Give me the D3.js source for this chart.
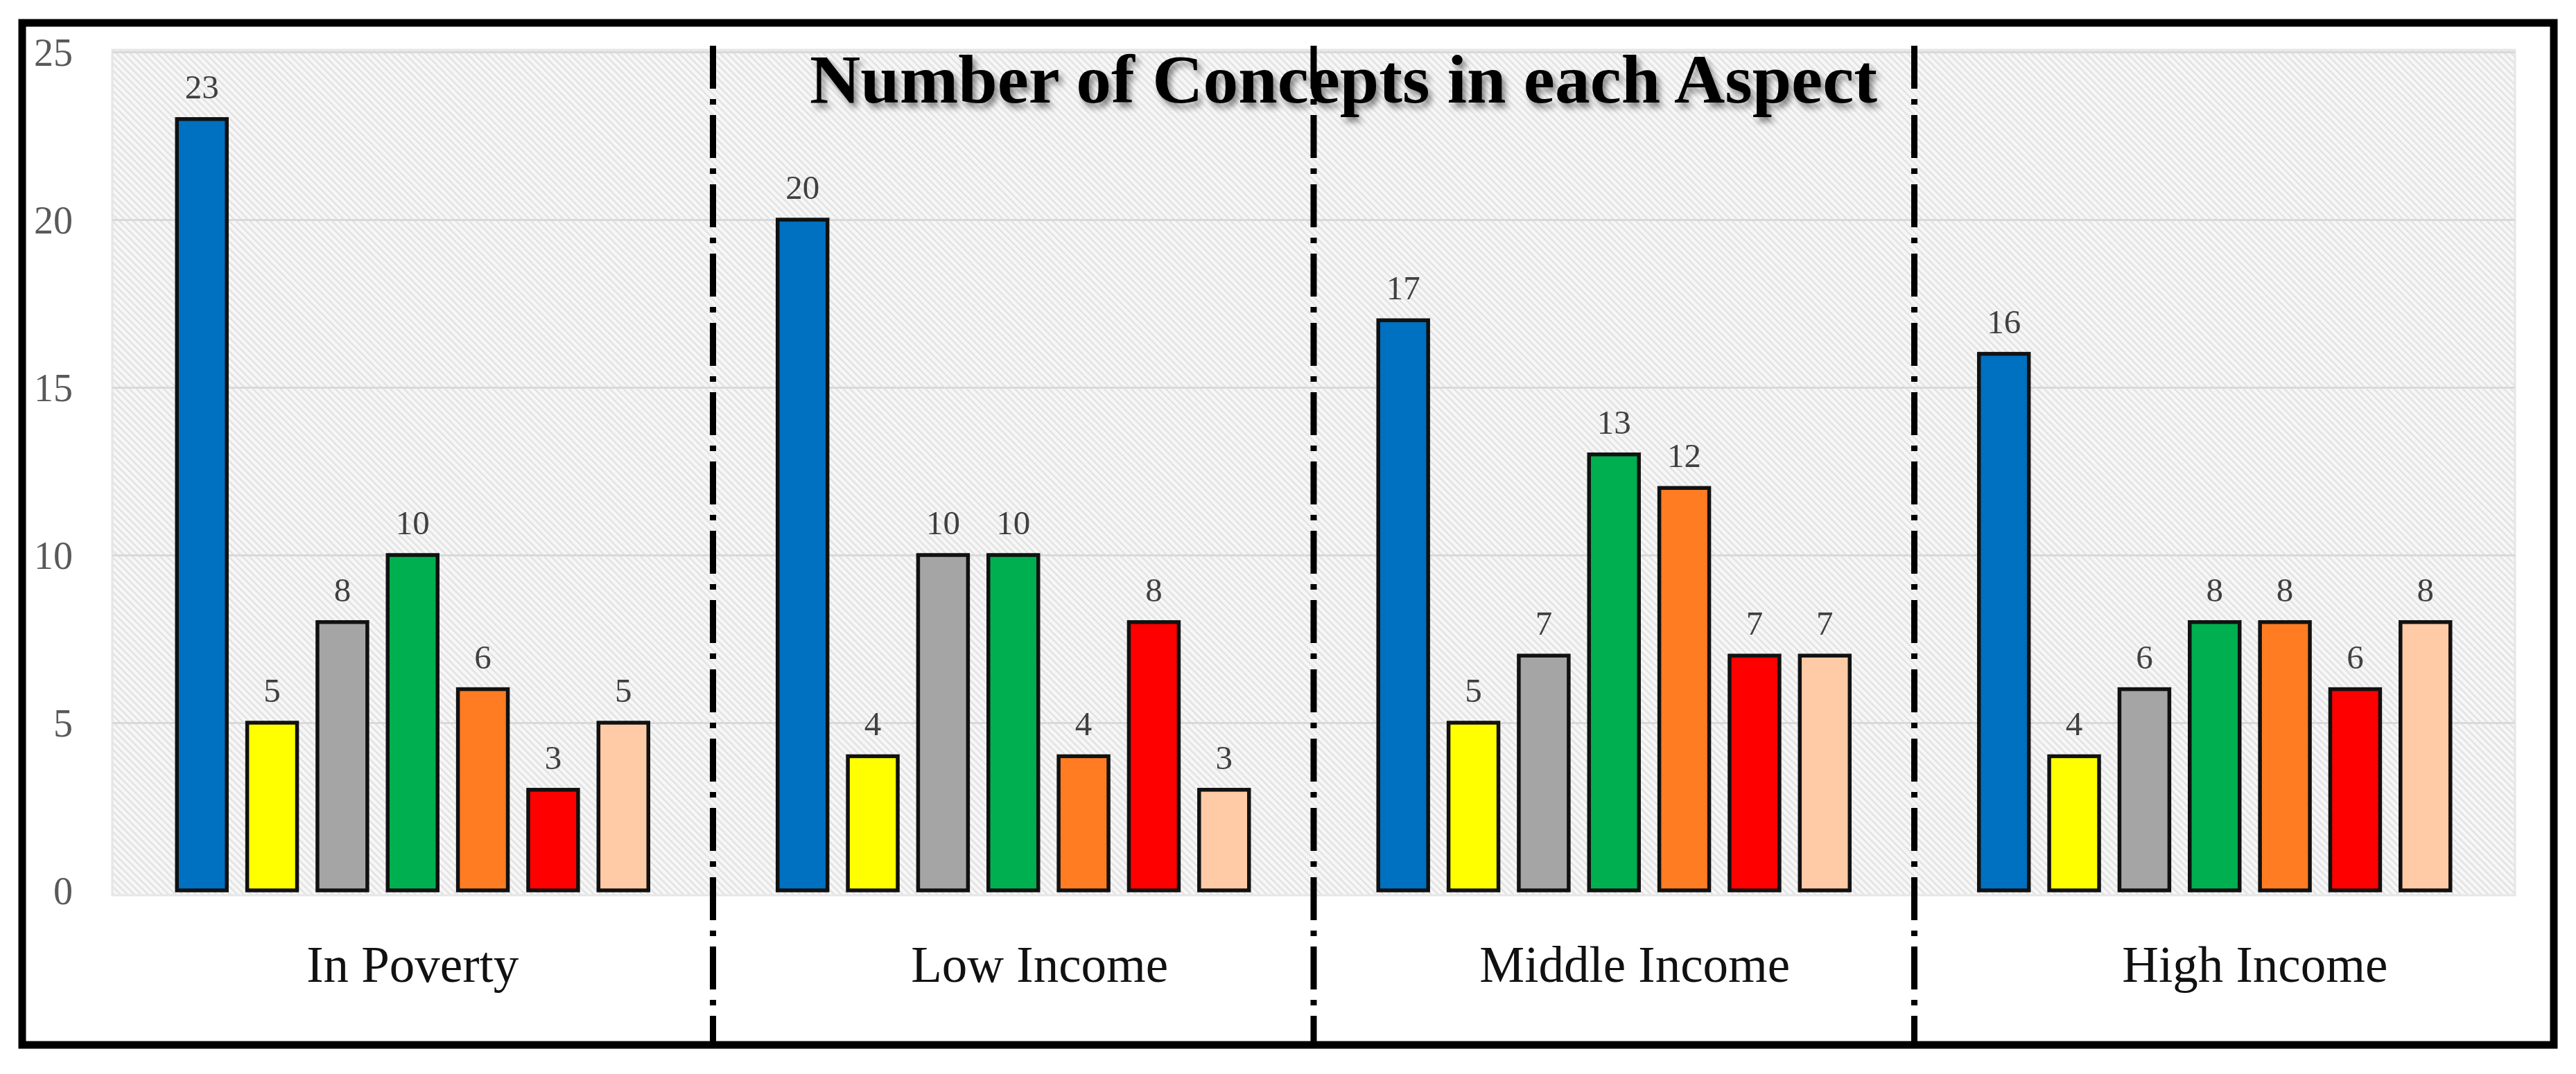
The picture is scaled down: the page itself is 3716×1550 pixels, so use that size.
<!DOCTYPE html>
<html>
<head>
<meta charset="utf-8">
<script src="https://cdn.jsdelivr.net/npm/d3@7/dist/d3.min.js"></script>
<style>
  html, body { margin: 0; padding: 0; background: #ffffff; }
  svg { display: block; }
</style>
</head>
<body>
<svg id="chart" width="3716" height="1550"></svg>
<script>
// ---------------- data ----------------
const categories = ["In Poverty", "Low Income", "Middle Income", "High Income"];
const series = ["Aspect 1", "Aspect 2", "Aspect 3", "Aspect 4", "Aspect 5", "Aspect 6", "Aspect 7"];
const inPoverty    = [23, 5, 8, 10, 6, 3, 5];
const lowIncome    = [20, 4, 10, 10, 4, 8, 3];
const middleIncome = [17, 5, 7, 13, 12, 7, 7];
const highIncome   = [16, 4, 6, 8, 8, 6, 8];
const yTicks = [0, 5, 10, 15, 20, 25];
const titleText = "Number of Concepts in each Aspect";

// ---------------- styles ----------------
const seriesColors = ["#0070C0", "#FFFF00", "#A5A5A5", "#00B050", "#FF7C22", "#FF0000", "#FFCBA6"];
const labelShift = [0, 38, 30, 58];

const valuesByCategory = [inPoverty, lowIncome, middleIncome, highIncome];
const table = categories.map((c, i) => ({
  category: c,
  values: series.map((s, j) => ({ series: s, value: valuesByCategory[i][j], idx: j }))
}));

const svg = d3.select("#chart");
const W = 3716, H = 1550;
const plot = { left: 162, right: 3628, top: 75, bottom: 1285 };

// defs: hatch pattern + shadow
const defs = svg.append("defs");
const pat = defs.append("pattern")
  .attr("id", "hatch")
  .attr("patternUnits", "userSpaceOnUse")
  .attr("width", 7).attr("height", 7)
  .attr("patternTransform", "rotate(-45)");
pat.append("rect").attr("width", 7).attr("height", 7).attr("fill", "#f7f7f7");
pat.append("rect").attr("x", 0).attr("y", 0).attr("width", 2.4).attr("height", 7).attr("fill", "#e1e1e1");

const shadow = defs.append("filter").attr("id", "tshadow")
  .attr("x", "-5%").attr("y", "-30%").attr("width", "110%").attr("height", "170%");
shadow.append("feDropShadow")
  .attr("dx", 5).attr("dy", 7).attr("stdDeviation", 4)
  .attr("flood-color", "#000").attr("flood-opacity", 0.45);

svg.append("rect").attr("width", W).attr("height", H).attr("fill", "#ffffff");

// scales
const x0 = d3.scaleBand().domain(categories).range([plot.left, plot.right]).padding(0);
const x1 = d3.scaleBand().domain(series).range([0, x0.bandwidth()])
  .paddingInner(0.29).paddingOuter(0.92);
const y = d3.scaleLinear().domain([0, 25]).range([plot.bottom, plot.top]);

// plot background
svg.append("rect")
  .attr("x", plot.left).attr("y", y(25) - 3)
  .attr("width", plot.right - plot.left)
  .attr("height", y(0) - y(25) + 10)
  .attr("fill", "url(#hatch)")
  .attr("stroke", "#e6e6e6").attr("stroke-width", 3);

// gridlines
const grid = svg.append("g")
  .attr("transform", `translate(${plot.left},0)`)
  .call(d3.axisLeft(y).tickValues(yTicks.filter(t => t > 0)).tickSize(-(plot.right - plot.left)).tickFormat(""));
grid.select(".domain").remove();
grid.selectAll("line").attr("stroke", "#d9d9d9").attr("stroke-width", 3);

// y tick labels
const yAxis = svg.append("g")
  .attr("transform", `translate(105,0)`)
  .call(d3.axisLeft(y).tickValues(yTicks).tickSize(0).tickPadding(0));
yAxis.select(".domain").remove();
yAxis.selectAll("text")
  .attr("font-family", "'Liberation Serif', 'Times New Roman', serif")
  .attr("font-size", 56)
  .attr("fill", "#595959")
  .attr("dy", "0.34em");

// bars
const groups = svg.append("g").selectAll("g.grp")
  .data(table).join("g")
  .attr("class", "grp")
  .attr("transform", d => `translate(${x0(d.category)},0)`);

groups.selectAll("rect.bar")
  .data(d => d.values).join("rect")
  .attr("class", "bar")
  .attr("x", d => x1(d.series))
  .attr("y", d => y(d.value))
  .attr("width", x1.bandwidth())
  .attr("height", d => y(0) - y(d.value))
  .attr("fill", d => seriesColors[d.idx])
  .attr("stroke", "#111")
  .attr("stroke-width", 5.5);

groups.selectAll("text.val")
  .data(d => d.values).join("text")
  .attr("class", "val")
  .attr("x", d => x1(d.series) + x1.bandwidth() / 2)
  .attr("y", d => y(d.value) - 30)
  .attr("text-anchor", "middle")
  .attr("font-family", "'Liberation Serif', 'Times New Roman', serif")
  .attr("font-size", 49)
  .attr("fill", "#404040")
  .text(d => d.value);

// category labels
svg.append("g").selectAll("text.cat")
  .data(categories).join("text")
  .attr("class", "cat")
  .attr("x", (d, i) => x0(d) + x0.bandwidth() / 2 + labelShift[i])
  .attr("y", 1417)
  .attr("text-anchor", "middle")
  .attr("font-family", "'Liberation Serif', 'Times New Roman', serif")
  .attr("font-size", 73)
  .attr("fill", "#111")
  .text(d => d);

// separators (dash-dot)
svg.append("g").selectAll("line.sep")
  .data(categories.slice(1)).join("line")
  .attr("class", "sep")
  .attr("x1", d => x0(d)).attr("x2", d => x0(d))
  .attr("y1", 66).attr("y2", 1508)
  .attr("stroke", "#000")
  .attr("stroke-width", 9)
  .attr("stroke-dasharray", "62,15,8,15");

// title
svg.append("text")
  .attr("x", 1938).attr("y", 148)
  .attr("text-anchor", "middle")
  .attr("font-family", "'Liberation Serif', 'Times New Roman', serif")
  .attr("font-weight", "bold")
  .attr("font-size", 100)
  .attr("textLength", 1540)
  .attr("lengthAdjust", "spacingAndGlyphs")
  .attr("fill", "#000")
  .attr("filter", "url(#tshadow)")
  .text(titleText);

// outer frame
svg.append("rect")
  .attr("x", 32).attr("y", 33)
  .attr("width", 3684 - 32).attr("height", 1508 - 33)
  .attr("fill", "none")
  .attr("stroke", "#000")
  .attr("stroke-width", 11);
</script>
</body>
</html>
